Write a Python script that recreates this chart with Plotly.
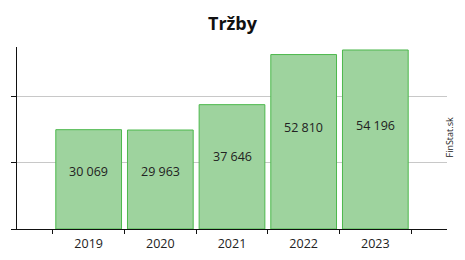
import plotly.graph_objects as go

years = ["2019", "2020", "2021", "2022", "2023"]
values = [30069, 29963, 37646, 52810, 54196]
labels = ["30 069", "29 963", "37 646", "52 810", "54 196"]
title = "Tržby"
source = "FinStat.sk"

fig = go.Figure()
fig.add_trace(go.Bar(
    x=years, y=values,
    marker=dict(color="rgba(158,211,158,1)", line=dict(color="#4cb84c", width=1)),
    hoverinfo="skip",
))
for i, (v, t) in enumerate(zip(values, labels)):
    fig.add_annotation(x=i, y=v * 0.58, text=t, showarrow=False,
                       font=dict(family="Open Sans", size=12.5, color="#222"),
                       yanchor="middle")

fig.add_annotation(xref="paper", yref="paper", x=1.0, y=0.5, xshift=10,
                   text=source, textangle=-90, showarrow=False,
                   font=dict(family="Open Sans", size=9, color="#222"))

fig.update_layout(
    width=465, height=260,
    margin=dict(l=15, r=18, t=47, b=31),
    paper_bgcolor="white", plot_bgcolor="white",
    title=dict(text="<b>" + title + "</b>", x=0.5, xanchor="center", y=0.91, yanchor="middle",
               font=dict(family="Open Sans", size=18, color="#111")),
    bargap=0.083,
    showlegend=False,
)
fig.update_xaxes(
    type="category", range=[-1, 5], showline=True, linecolor="#111", linewidth=1,
    ticks="outside", tickson="boundaries", ticklen=4, tickcolor="#111",
    ticklabelstandoff=3, automargin=False,
    tickfont=dict(family="Open Sans", size=12.5, color="#222"), showgrid=False,
)
fig.update_yaxes(
    range=[0, 55100], dtick=20000, showticklabels=False, showline=True,
    linecolor="#111", linewidth=1, ticks="outside", ticklen=5, tickcolor="#111",
    showgrid=True, gridcolor="#c8c8c8", gridwidth=1, zeroline=False,
)

fig.write_html("out.html")
